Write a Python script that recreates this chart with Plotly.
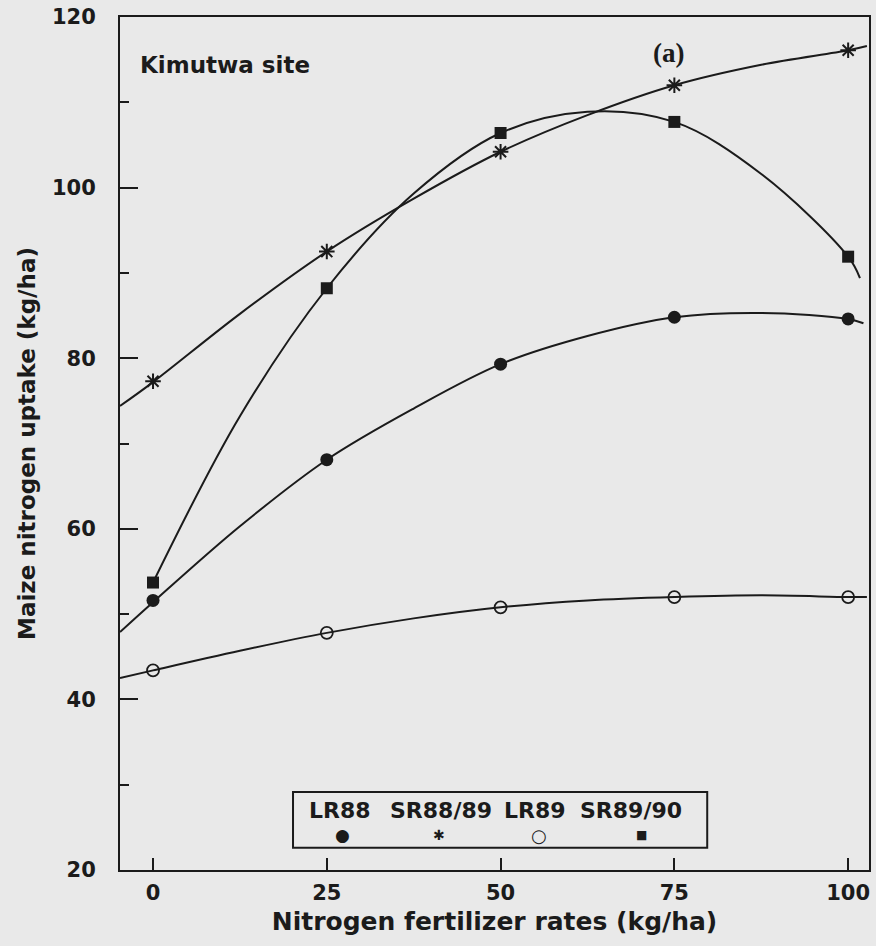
import plotly.graph_objects as go

# ---------------- data ----------------
series_names = ["LR88", "SR88/89", "LR89", "SR89/90"]
n_rates = [0, 25, 50, 75, 100]

lr88 = [51.6, 68.1, 79.3, 84.8, 84.6]
sr8889 = [77.3, 92.5, 104.2, 112.0, 116.1]
lr89 = [43.4, 47.8, 50.8, 52.0, 52.0]
sr8990 = [53.7, 88.2, 106.4, 107.7, 91.9]

# fitted response curves at several rates
lr88_fit_x = [-4.75, 0, 12.5, 25, 37.5, 50, 62.5, 75, 87.5, 100, 102.2]
lr88_fit_y = [47.9, 51.4, 60.3, 68.1, 74.1, 79.3, 82.6, 84.8, 85.3, 84.6, 84.1]
sr8889_fit_x = [-4.75, 0, 12.5, 25, 37.5, 50, 62.5, 75, 87.5, 100, 102.7]
sr8889_fit_y = [74.4, 77.2, 85.2, 92.5, 98.7, 104.2, 108.5, 112.0, 114.4, 116.1, 116.6]
lr89_fit_x = [-4.75, 0, 12.5, 25, 37.5, 50, 62.5, 75, 87.5, 100, 102.7]
lr89_fit_y = [42.5, 43.4, 45.7, 47.8, 49.5, 50.8, 51.6, 52.0, 52.2, 52.0, 52.0]
sr8990_fit_x = [0, 12.5, 25, 37.5, 50, 62.5, 75, 87.5, 100, 101.7]
sr8990_fit_y = [53.7, 73.2, 88.2, 99.3, 106.4, 108.9, 107.7, 101.6, 91.9, 89.4]

x_ticks = [0, 25, 50, 75, 100]
y_ticks = [20, 40, 60, 80, 100, 120]
y_minor_ticks = [30, 50, 70, 90, 110]

# ---------------- styling ----------------
INK = "#1b1b1b"
BG = "#e9e9e9"
FONT = "DejaVu Sans"

fig = go.Figure()

curves = [
    (lr88_fit_x, lr88_fit_y),
    (sr8889_fit_x, sr8889_fit_y),
    (lr89_fit_x, lr89_fit_y),
    (sr8990_fit_x, sr8990_fit_y),
]
for cx, cy in curves:
    fig.add_trace(go.Scatter(
        x=cx, y=cy, mode="lines",
        line=dict(color=INK, width=2, shape="spline", smoothing=1.0),
        showlegend=False, hoverinfo="skip"))

marker_styles = [
    dict(symbol="circle", size=13, color=INK),
    dict(symbol="asterisk-open", size=13, color=INK, line=dict(color=INK, width=2)),
    dict(symbol="circle-open", size=12, color=INK, line=dict(color=INK, width=1.8)),
    dict(symbol="square", size=12, color=INK),
]
for name, vals, ms in zip(series_names, [lr88, sr8889, lr89, sr8990], marker_styles):
    fig.add_trace(go.Scatter(x=n_rates, y=vals, mode="markers", name=name,
                             marker=ms, showlegend=False))

# ---------------- custom legend box (labels above symbols) ----------------
fig.add_shape(type="rect", xref="paper", yref="paper",
              x0=0.231, x1=0.784, y0=0.026, y1=0.0915,
              line=dict(color=INK, width=2), fillcolor="rgba(0,0,0,0)")
legend_label_x = [0.2937, 0.4286, 0.5541, 0.6822]
for name, lx in zip(series_names, legend_label_x):
    fig.add_annotation(xref="paper", yref="paper", x=lx, y=0.0695,
                       xanchor="center", yanchor="middle",
                       text=name, showarrow=False,
                       font=dict(family=FONT, size=22, color=INK, weight="bold"))
legend_glyphs = ["●", "✱", "○", "■"]
legend_glyph_x = [0.2977, 0.4259, 0.5594, 0.6969]
legend_glyph_size = [17, 14, 18, 12]
for g, gx, gs in zip(legend_glyphs, legend_glyph_x, legend_glyph_size):
    fig.add_annotation(xref="paper", yref="paper", x=gx, y=0.0405, text=g,
                       xanchor="center", yanchor="middle",
                       showarrow=False, font=dict(family=FONT, size=gs, color=INK))

# ---------------- panel labels ----------------
fig.add_annotation(xref="paper", yref="paper", x=0.140, y=0.944,
                   xanchor="center", yanchor="middle",
                   text="Kimutwa site", showarrow=False,
                   font=dict(family=FONT, size=23, color=INK, weight="bold"))
fig.add_annotation(xref="paper", yref="paper", x=0.732, y=0.958,
                   xanchor="center", yanchor="middle",
                   text="(a)", showarrow=False,
                   font=dict(family="Liberation Serif", size=27, color=INK, weight="bold"))

fig.update_layout(
    width=876, height=946,
    margin=dict(l=120, r=7, t=17, b=76),
    paper_bgcolor=BG, plot_bgcolor=BG,
    font=dict(family=FONT, color=INK),
    showlegend=False,
)
fig.update_xaxes(
    range=[-4.75, 103], tickvals=x_ticks, ticks="inside", ticklen=12,
    tickwidth=1.5, tickcolor=INK, showline=True, linewidth=2, linecolor=INK,
    mirror=True, showgrid=False, zeroline=False, automargin=False,
    ticklabelstandoff=3,
    tickfont=dict(family=FONT, size=21, color=INK, weight="bold"),
    title=dict(text="Nitrogen fertilizer rates (kg/ha)", standoff=8,
               font=dict(family=FONT, size=25, color=INK, weight="bold")),
)
fig.update_yaxes(
    range=[20, 120], tickvals=y_ticks, ticks="inside", ticklen=18,
    tickwidth=1.5, tickcolor=INK, showline=True, linewidth=2, linecolor=INK,
    mirror=True, showgrid=False, zeroline=False, automargin=False,
    ticklabelstandoff=18,
    minor=dict(tickvals=y_minor_ticks, ticks="inside", ticklen=9,
               tickwidth=1.5, tickcolor=INK, showgrid=False),
    tickfont=dict(family=FONT, size=21, color=INK, weight="bold"),
    title=dict(text="Maize nitrogen uptake (kg/ha)", standoff=10,
               font=dict(family=FONT, size=23, color=INK, weight="bold")),
)

fig.write_html("out.html")
